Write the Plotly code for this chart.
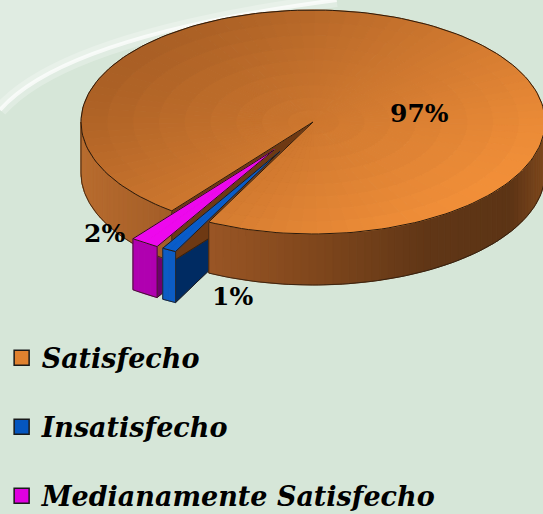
import numpy as np
import plotly.graph_objects as go

# ---------------- data ----------------
categories = ["Satisfecho", "Insatisfecho", "Medianamente Satisfecho"]
values = [97, 1, 2]
percent_labels = ["97%", "1%", "2%"]
pulls = [0.0, 0.30, 0.30]

# ---------------- style ----------------
legend_colors = ["#E0812F", "#0556BF", "#E000E0"]
top_lo = [(0xA8, 0x5E, 0x24), (0x06, 0x55, 0xC0), (0xE8, 0x00, 0xE8)]
top_hi = [(0xF3, 0x90, 0x39), (0x0C, 0x62, 0xD0), (0xF2, 0x10, 0xF2)]
face_colors = ["#6E3913", "#002B62", "#6E006E"]
wall_stops = [
    [(-1.0, (0xB8, 0x6C, 0x2E)), (-0.4, (0x97, 0x54, 0x24)), (0.0, (0x80, 0x47, 0x1C)),
     (0.5, (0x60, 0x36, 0x16)), (0.85, (0x5C, 0x34, 0x15)), (1.0, (0x7D, 0x47, 0x1C))],
    [(-1.0, (0x0C, 0x5C, 0xC4)), (1.0, (0x0C, 0x5C, 0xC4))],
    [(-1.0, (0xB0, 0x00, 0xB0)), (1.0, (0xB0, 0x00, 0xB0))],
]
OUTLINE = "#2A1A0C"
START = 232.5          # math degrees where the first slice starts (clockwise)
RY = 112 / 232         # vertical squash of the pie ellipse
DEPTH = 51 / 232       # thickness of the pie
label_pos = [(0.461, 0.035), (-0.349, -0.754), (-0.897, -0.479)]


def hexc(c):
    return "#%02X%02X%02X" % tuple(int(round(v)) for v in c)


def lerp(c1, c2, t):
    t = min(max(t, 0.0), 1.0)
    return tuple(a + (b - a) * t for a, b in zip(c1, c2))


def stop_color(stops, x):
    if x <= stops[0][0]:
        return stops[0][1]
    for (x0, c0), (x1, c1) in zip(stops[:-1], stops[1:]):
        if x <= x1:
            return lerp(c0, c1, (x - x0) / (x1 - x0))
    return stops[-1][1]


def pt(theta, r, off, dz=0.0):
    t = np.radians(theta)
    return off[0] + r * np.cos(t), off[1] + RY * r * np.sin(t) - dz


def front_intervals(lo, hi):
    res = []
    k0 = int(np.floor(lo / 360.0)) - 1
    for k in range(k0, k0 + 4):
        a = max(lo, 180 + 360 * k)
        b = min(hi, 360 + 360 * k)
        if b > a:
            res.append((a, b))
    return res


fig = go.Figure()


def poly(xs, ys, color, lw=1.0):
    fig.add_trace(go.Scatter(x=list(xs) + [xs[0]], y=list(ys) + [ys[0]], mode="lines",
                             fill="toself", fillcolor=color,
                             line=dict(color=color, width=lw),
                             hoverinfo="skip", showlegend=False))


def outline(xs, ys, lw=1.0):
    fig.add_trace(go.Scatter(x=list(xs), y=list(ys), mode="lines",
                             line=dict(color=OUTLINE, width=lw),
                             hoverinfo="skip", showlegend=False))


total = float(sum(values))
spans = []
a = START
for v in values:
    s = 360.0 * v / total
    spans.append((a - s, a))
    a -= s

offsets = []
for i, (lo, hi) in enumerate(spans):
    mid = np.radians((lo + hi) / 2)
    offsets.append((pulls[i] * np.cos(mid), pulls[i] * RY * np.sin(mid)))


def draw_faces(i):
    lo, hi = spans[i]
    off = offsets[i]
    cx, cy = off
    faces = []
    if np.cos(np.radians(hi)) < 0:
        faces.append(hi)
    if np.cos(np.radians(lo)) > 0:
        faces.append(lo)
    for th in faces:
        ex, ey = pt(th, 1, off)
        fx = [cx, ex, ex, cx]
        fy = [cy, ey, ey - DEPTH, cy - DEPTH]
        poly(fx, fy, face_colors[i])
        outline(fx + [fx[0]], fy + [fy[0]], 0.8)


def draw_body(i):
    lo, hi = spans[i]
    off = offsets[i]
    cx, cy = off
    # outer wall (front part only), shaded by horizontal position
    for (wa, wb) in front_intervals(lo, hi):
        n = max(1, int(np.ceil((wb - wa) / 2.0)))
        edges = np.linspace(wa, wb, n + 1)
        for k in range(n):
            ths = np.linspace(edges[k], edges[k + 1], 4)
            tx, ty = pt(ths, 1, off)
            bx, by = pt(ths[::-1], 1, off, DEPTH)
            xm = float(np.mean(tx))
            poly(np.concatenate([tx, bx]), np.concatenate([ty, by]),
                 hexc(stop_color(wall_stops[i], xm)))
        ths = np.linspace(wa, wb, 80)
        tx, ty = pt(ths, 1, off)
        bx, by = pt(ths[::-1], 1, off, DEPTH)
        outline(list(tx) + list(bx) + [tx[0]], list(ty) + list(by) + [ty[0]], 0.8)

    # top face with a linear gradient (top-left dark -> bottom-right light)
    na = max(2, int(np.ceil((hi - lo) / 4.0)))
    nr = 9 if i == 0 else 1
    aedges = np.linspace(lo, hi, na + 1)
    redges = np.linspace(0, 1, nr + 1)
    for k in range(na):
        ths = np.linspace(aedges[k], aedges[k + 1], 3)
        for j in range(nr):
            r0, r1 = redges[j], redges[j + 1]
            ox_, oy_ = pt(ths, r1, off)
            ix_, iy_ = pt(ths[::-1], r0, off)
            xs = np.concatenate([ox_, ix_])
            ys = np.concatenate([oy_, iy_])
            mx = float(np.mean(xs))
            my = float(np.mean(ys)) / RY
            t = 0.5 + 0.5 * (0.8 * mx - 0.6 * my)
            poly(xs, ys, hexc(lerp(top_lo[i], top_hi[i], t)))
    ths = np.linspace(lo, hi, 200)
    tx, ty = pt(ths, 1, off)
    outline([cx] + list(tx) + [cx], [cy] + list(ty) + [cy], 1.0)


# painter's order: the exploded slices' inner faces, the big slice, then the exploded slices
draw_faces(2)
draw_faces(1)
draw_faces(0)
draw_body(0)
draw_body(2)
draw_body(1)

# legend entries
for name, col in zip(categories, legend_colors):
    fig.add_trace(go.Scatter(x=[None], y=[None], mode="markers", name=name,
                             legendgroup=name,
                             marker=dict(symbol="square", size=15, color=col,
                                         line=dict(color="#1A1A1A", width=1.5))))

# percentage labels
for txt, (lx, ly) in zip(percent_labels, label_pos):
    fig.add_annotation(x=lx, y=ly, text=txt, showarrow=False,
                       font=dict(family="DejaVu Serif", size=25, color="black", weight="bold"))

# background swoosh
fig.add_shape(type="path", xref="paper", yref="paper", layer="below",
              path="M 0,0.786 Q 0.12,0.93 0.62,1.0 L 0,1.0 Z",
              fillcolor="rgba(255,255,255,0.25)", line=dict(width=0))
fig.add_shape(type="path", xref="paper", yref="paper", layer="below",
              path="M 0,0.786 Q 0.12,0.93 0.62,1.0",
              line=dict(color="rgba(255,255,255,0.25)", width=14))
fig.add_shape(type="path", xref="paper", yref="paper", layer="below",
              path="M 0,0.786 Q 0.12,0.93 0.62,1.0",
              line=dict(color="rgba(255,255,255,0.7)", width=4))

fig.update_layout(
    width=543, height=514,
    margin=dict(l=0, r=0, t=0, b=0, autoexpand=False),
    paper_bgcolor="#D6E6D8",
    plot_bgcolor="rgba(0,0,0,0)",
    xaxis=dict(range=[-313 / 232, 230 / 232], visible=False, fixedrange=True),
    yaxis=dict(range=[(122 - 514) / 232, 122 / 232], visible=False, fixedrange=True),
    showlegend=True,
    legend=dict(x=0.003, y=0.351, xanchor="left", yanchor="top",
                bgcolor="rgba(0,0,0,0)", tracegroupgap=31, itemwidth=30,
                font=dict(family="DejaVu Serif", size=27, color="black",
                          weight="bold", style="italic")),
)

fig.write_html("out.html", config={"displayModeBar": False},
               post_script="document.body.style.margin='0';")
